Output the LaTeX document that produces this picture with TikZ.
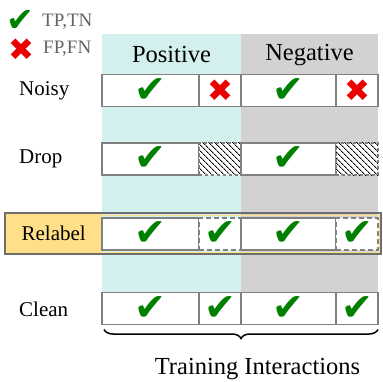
\documentclass[tikz,border=0pt]{standalone}
\usepackage{fontspec}
\setmainfont{Liberation Serif}
\newfontfamily\dejavu{DejaVu Sans}
\usetikzlibrary{positioning,patterns.meta,decorations.pathreplacing}

\definecolor{posbg}{RGB}{211,240,238}
\definecolor{negbg}{RGB}{211,209,210}
\definecolor{lblyellow}{RGB}{255,223,136}
\definecolor{cellgray}{RGB}{128,128,128}
\definecolor{framegray}{RGB}{110,110,110}
\definecolor{okgreen}{RGB}{0,128,0}
\definecolor{badred}{RGB}{235,0,0}
\definecolor{legendgray}{RGB}{100,100,100}

\newcommand{\chk}{{\dejavu\fontsize{38}{38}\selectfont\color{okgreen}✔}}
\newcommand{\crs}{{\dejavu\fontsize{31}{31}\selectfont\color{badred}✖}}

\begin{document}
\begin{tikzpicture}[x=1pt,y=-1pt,
  cell/.style={draw=cellgray,line width=1.5pt,fill=white,minimum height=32pt,
    inner sep=0pt,outer sep=0pt,anchor=west},
  hatchcell/.style={cell,dashed,preaction={fill=white},
    pattern={Lines[angle=-45,distance=4pt,line width=1pt]}},
  relcell/.style={cell,dash pattern=on 5pt off 3pt},
  rowlabel/.style={anchor=west,inner sep=0pt,font=\fontsize{21}{21}\selectfont},
  header/.style={inner sep=0pt,font=\fontsize{24.5}{24.5}\selectfont},
  legendtext/.style={anchor=west,inner sep=0pt,text=legendgray,font=\fontsize{19}{19}\selectfont},
  legendmark/.style={inner sep=0pt}
]
\useasboundingbox (0,0) rectangle (382,382);

% column backgrounds
\fill[posbg] (102,34) rectangle (241,292);
\fill[negbg] (241,34) rectangle (378,292);

\node[header] (pos) at (171.5,55) {Positive};
\node[header] (neg) at (309.5,55) {Negative};

% legend
\node[legendmark,scale=0.88] (legchk) at (21,20.5) {\chk};
\node[legendtext] (legtp) at (42,22) {TP,TN};
\node[legendmark] (legcrs) at (21,50) {\crs};
\node[legendtext] (legfp) at (43,49) {FP,FN};

% noisy
\node[rowlabel] (noisy) at (19,91) {Noisy};
\node[cell,minimum width=97pt] (noisy1) at (102,90.5) {\chk};
\node[cell,minimum width=42pt,right=0pt of noisy1] (noisy2) {\crs};
\node[cell,minimum width=95pt,right=0pt of noisy2] (noisy3) {\chk};
\node[cell,minimum width=42pt,right=0pt of noisy3] (noisy4) {\crs};

% drop
\node[rowlabel] (drop) at (19,159) {Drop};
\node[cell,minimum width=97pt] (drop1) at (102,159) {\chk};
\node[hatchcell,minimum width=42pt,right=0pt of drop1] (drop2) {};
\node[cell,minimum width=95pt,right=0pt of drop2] (drop3) {\chk};
\node[hatchcell,minimum width=42pt,right=0pt of drop3] (drop4) {};

% relabel
\node[fill=lblyellow,minimum width=97pt,minimum height=40pt,inner sep=0pt,
  anchor=west,font=\fontsize{21}{21}\selectfont] (relabel) at (5,233.5) {Relabel};
\node[cell,minimum width=97pt] (relabel1) at (102,234) {\chk};
\node[relcell,minimum width=42pt,right=0pt of relabel1] (relabel2) {\chk};
\node[cell,minimum width=95pt,right=0pt of relabel2] (relabel3) {\chk};
\node[relcell,minimum width=42pt,right=0pt of relabel3] (relabel4) {\chk};
\coordinate (frameSE) at (381,253.5);
\draw[lblyellow,line width=1pt] (6.5,215) rectangle (379.5,252);
\draw[framegray,line width=2pt] (relabel.north west) rectangle (frameSE);

% clean
\node[rowlabel] (clean) at (19,309) {Clean};
\node[cell,minimum width=97pt] (clean1) at (102,308.5) {\chk};
\node[cell,minimum width=42pt,right=0pt of clean1] (clean2) {\chk};
\node[cell,minimum width=95pt,right=0pt of clean2] (clean3) {\chk};
\node[cell,minimum width=42pt,right=0pt of clean3] (clean4) {\chk};

% brace
\draw[decorate,decoration={brace,mirror,amplitude=9pt},line width=1.5pt]
  ([xshift=2pt,yshift=-5pt]clean1.south west) -- ([yshift=-5pt]clean4.south east);
\node[header] (train) at (257.5,369) {Training Interactions};
\end{tikzpicture}
\end{document}
